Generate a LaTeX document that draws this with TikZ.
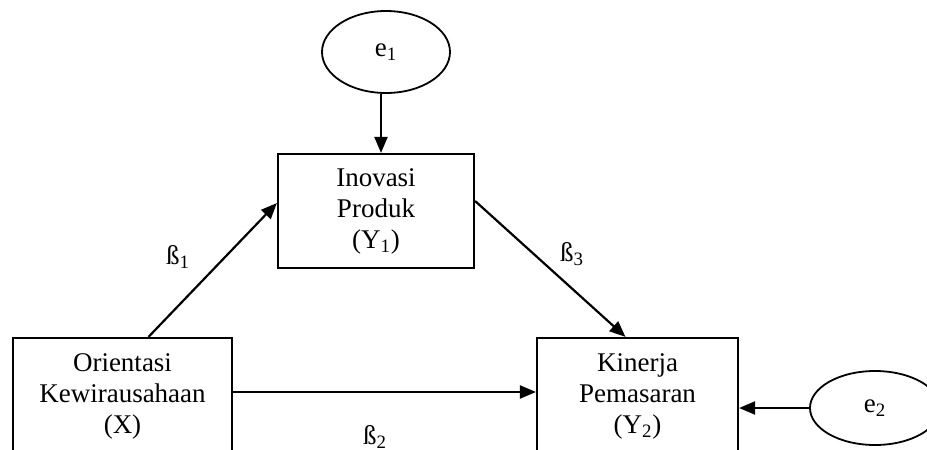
\documentclass[tikz,border=0pt]{standalone}
\usepackage{fontspec}
\setmainfont{Liberation Serif}
\usetikzlibrary{arrows.meta,shapes.geometric}
\tikzset{>={Triangle[length=8pt,width=6.5pt]}}
\tikzset{var/.style={draw,line width=1.1pt,align=center,font=\fontsize{13.5}{15.5}\selectfont}}
\tikzset{err/.style={draw,ellipse,line width=0.9pt,font=\fontsize{13.5}{15.5}\selectfont}}
\tikzset{coef/.style={font=\fontsize{13.5}{15.5}\selectfont}}

\begin{document}
\begin{tikzpicture}[x=0.5pt,y=-0.5pt]
  \useasboundingbox (0,0) rectangle (927,450);
  \clip (0,0) rectangle (927,449);
  \node[var,minimum width=109.5pt,minimum height=58pt] (X) at (122.5,396) {Orientasi\\Kewirausahaan\\(X)};
  \node[var,minimum width=98pt,minimum height=57pt] (Y1) at (376,211) {Inovasi\\Produk\\(Y\textsubscript{1})};
  \node[var,minimum width=100.5pt,minimum height=58pt] (Y2) at (637.5,396) {Kinerja\\Pemasaran\\(Y\textsubscript{2})};
  \node[err,minimum width=64pt,minimum height=41pt] (e1) at (386,52) {e\textsubscript{1}};
  \node[err,minimum width=65pt,minimum height=37pt] (e2) at (875,408) {e\textsubscript{2}};
  \coordinate (a) at ([xshift=-2.5pt]e1.south);
  \draw[->,line width=1.1pt] (a) -- (a |- Y1.north);
  \draw[->,line width=1.1pt] (e2.west) -- (e2.west -| Y2.east);
  \draw[->,line width=1.1pt] ([xshift=13pt]X.north) -- ([yshift=4pt]Y1.west);
  \draw[->,line width=1.1pt] ([yshift=5pt]Y1.east) -- ([xshift=-6pt]Y2.north);
  \draw[->,line width=1.1pt] ([yshift=2pt]X.east) -- ([yshift=2pt]X.east -| Y2.west);
  \node[coef] (b1) at (178,257) {ß\textsubscript{1}};
  \node[coef] (b2) at (375,437) {ß\textsubscript{2}};
  \node[coef] (b3) at (572,254) {ß\textsubscript{3}};
\end{tikzpicture}
\end{document}
